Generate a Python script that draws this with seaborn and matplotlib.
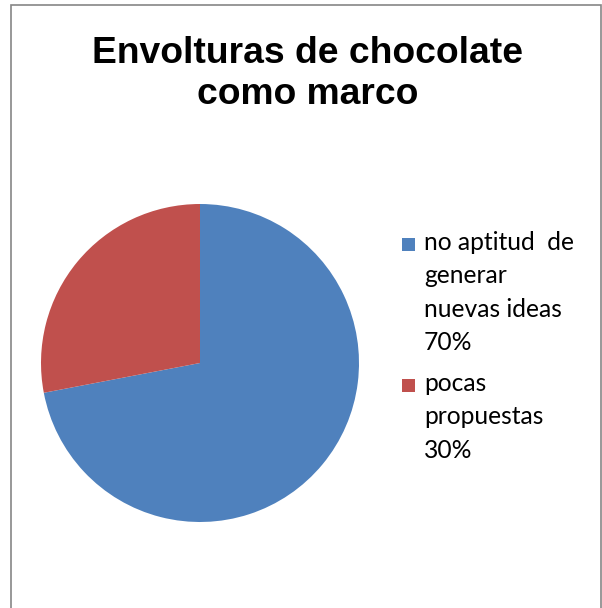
import matplotlib.pyplot as plt
import seaborn as sns
from matplotlib.patches import Rectangle

title = "Envolturas de chocolate\ncomo marco"
labels = ["no aptitud  de\ngenerar\nnuevas ideas\n70%", "pocas\npropuestas\n30%"]
values = [72, 28]
colors = ["#4F81BD", "#C0504D"]

sns.set_theme(style="white")
plt.rcParams['font.family'] = ['Liberation Sans', 'DejaVu Sans']

W, H = 602, 608
fig = plt.figure(figsize=(W / 100, H / 100), dpi=100)
fig.patch.set_facecolor("white")

# outer chart border
fig.patches.append(Rectangle((11 / W, -0.02), 590 / W, 1.02 - 5 / H, transform=fig.transFigure,
                             fill=False, edgecolor="#868686", linewidth=1.2))

# title
fig.text(308 / W, 1 - 74 / H, title, ha="center", va="center", fontsize=26.8,
         fontweight="bold", color="black", linespacing=1.2)

# pie
cx, cy, r = 200, 363, 159
ax = fig.add_axes([(cx - r) / W, (H - cy - r) / H, 2 * r / W, 2 * r / H])
ax.pie(values, colors=colors, startangle=90, counterclock=False,
       wedgeprops=dict(linewidth=0))
ax.set_xlim(-1, 1)
ax.set_ylim(-1, 1)
ax.axis("off")

# legend
tops = [231, 372]
for lab, col, top in zip(labels, colors, tops):
    fig.patches.append(Rectangle((402 / W, 1 - (top + 20) / H), 13 / W, 13 / H,
                                 transform=fig.transFigure, facecolor=col, edgecolor="none"))
    fig.text(424 / W, 1 - top / H, lab, ha="left", va="top", fontsize=17.7,
             family=["Lato", "DejaVu Sans"], color="black", linespacing=1.54)

fig.savefig("out.png", dpi=100, facecolor="white")
